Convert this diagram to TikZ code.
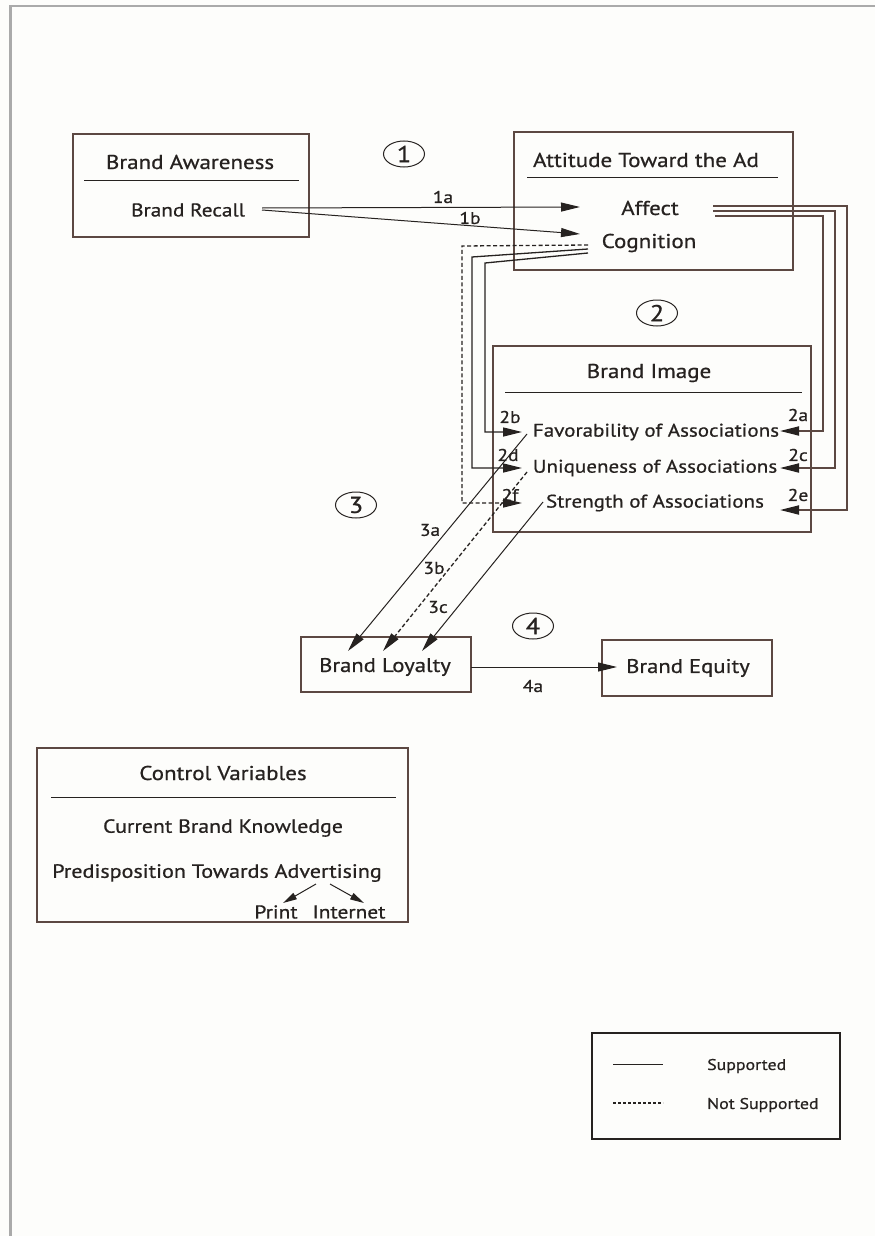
\documentclass[tikz,border=0pt]{standalone}
\usepackage{fontspec}
\setmainfont{PT Sans}[FakeStretch=1.15,FakeBold=0.7]
\usetikzlibrary{arrows.meta,shapes.geometric}
\definecolor{boxc}{RGB}{92,72,66}
\definecolor{linec}{RGB}{38,34,32}
\definecolor{framec}{RGB}{170,170,170}
\definecolor{bgc}{RGB}{253,253,251}
\newcommand\myfs[1]{\fontsize{#1}{#1}\selectfont}
\tikzset{
  box/.style={draw=boxc, line width=1.8pt, inner sep=0pt},
  sepline/.style={draw=linec, line width=1pt},
  txt/.style={font=\myfs{#1}, inner sep=0pt, text=linec},
  txt/.default=20,
  lbl/.style={font=\myfs{17}, inner sep=0pt, text=linec},
  leg/.style={font=\myfs{15.5}, inner sep=0pt, text=linec, anchor=west},
  num/.style={ellipse, draw=linec, line width=1pt, minimum width=41pt, minimum height=26pt, inner sep=0pt, font=\myfs{23}, text=linec},
  tipbig/.style={-{Triangle[length=19pt,width=9pt,color=linec]}},
  arr/.style={tipbig, draw=linec, line width=1pt},
  darr/.style={tipbig, draw=linec, line width=1.3pt, dash pattern=on 4pt off 2.5pt},
  brarr/.style={tipbig, draw=boxc, line width=1.8pt},
  carr/.style={tipbig, draw=linec, line width=1.3pt},
  smarr/.style={-{Triangle[length=14pt,width=7pt]}, draw=linec, line width=1pt},
}
\begin{document}
\begin{tikzpicture}[x=1pt,y=-1pt]
\useasboundingbox (0,0) rectangle (875,1236);
\fill[bgc] (0,0) rectangle (875,1236);
\draw[framec, line width=2.5pt] (875,6) -- (10.5,6) -- (10.5,1236);

% Brand Awareness
\node[box, minimum width=236, minimum height=103] (awbox) at (191,185.5) {};
\node[txt] (aw) at (190,162) {Brand Awareness};
\draw[sepline] (84,180) -- (299,180);
\node[txt=18.5] (recall) at (188,210) {Brand Recall};

% Attitude toward the ad
\node[box, minimum width=279, minimum height=138] (atbox) at (653.5,201) {};
\node[txt] (at) at (646,160) {Attitude Toward the Ad};
\draw[sepline] (527,177) -- (778,177);
\node[txt] (affect) at (650,208) {Affect};
\node[txt] (cog) at (649,243) {Cognition};

% Brand image
\node[box, minimum width=318, minimum height=186] (bibox) at (652,439) {};
\node[txt] (bi) at (649,373) {Brand Image};
\draw[sepline] (505,392) -- (802,392);
\node[txt=18.3] (fav) at (656,432) {Favorability of Associations};
\node[txt=18.3] (uni) at (655,468) {Uniqueness of Associations};
\node[txt=18.3] (str) at (655,503) {Strength of Associations};

% Loyalty / Equity
\node[box, minimum width=170, minimum height=55] (loybox) at (386,664.5) {};
\node[txt=19.7] (loy) at (385,667) {Brand Loyalty};
\node[box, minimum width=170, minimum height=56] (eqbox) at (687,668) {};
\node[txt=19.7] (eq) at (688,668) {Brand Equity};

% Control variables
\node[box, minimum width=371, minimum height=174] (cvbox) at (222.5,835) {};
\node[txt] (cv) at (223,773) {Control Variables};
\draw[sepline] (51,797) -- (396,797);
\node[txt=19] (cbk) at (223,828) {Current Brand Knowledge};
\node[txt=19.2] (pta) at (217,873) {Predisposition Towards Advertising};
\node[txt=18.6] (print) at (276,912) {Print};
\node[txt=18.6] (inet) at (349,912) {Internet};

% Legend
\node[box, draw=linec, line width=1.2pt, minimum width=248, minimum height=106] (legbox) at (716,1086) {};
\coordinate (ls1) at (613,1064); \coordinate (ls2) at (663,1064);
\coordinate (ld1) at (613,1103); \coordinate (ld2) at (663,1103);
\draw[draw=linec, line width=1pt] (ls1) -- (ls2);
\draw[draw=linec, line width=1.2pt, dash pattern=on 3pt off 2pt] (ld1) -- (ld2);
\node[leg] (sup) at (707,1066) {Supported};
\node[leg] (nsup) at (707,1105) {Not Supported};

% Numbered circles
\node[num] (c1) at (404,154) {1};
\node[num] (c2) at (657,313) {2};
\node[num] (c3) at (356,505) {3};
\node[num] (c4) at (533,626) {4};

% Path 1
\coordinate (r1) at (262,208); \coordinate (r2) at (262,210);
\coordinate (af) at (580,207); \coordinate (cg) at (580,234);
\draw[arr] (r1) -- (af);
\draw[arr] (r2) -- (cg);
\node[lbl] (l1a) at (443,197) {1a};
\node[lbl] (l1b) at (470,218) {1b};

% Path 2: from Affect (right side)
\coordinate (as1) at (713,206); \coordinate (as2) at (713,211); \coordinate (as3) at (715,216);
\coordinate (t2a) at (780,431); \coordinate (t2c) at (780,468); \coordinate (t2e) at (780,510);
\draw[brarr] (as1) -- (847,206) -- (847,510) -- (t2e);
\draw[brarr] (as2) -- (835,211) -- (835,468) -- (t2c);
\draw[brarr] (as3) -- (823,216) -- (823,431) -- (t2a);
\node[lbl] (l2a) at (798,415) {2a};
\node[lbl] (l2c) at (798,455) {2c};
\node[lbl] (l2e) at (798,495) {2e};

% Path 2: from Cognition (left side)
\coordinate (cs1) at (588,245); \coordinate (cs2) at (588,249); \coordinate (cs3) at (588,253);
\coordinate (t2b) at (522,432); \coordinate (t2d) at (522,468); \coordinate (t2f) at (522,503);
\draw[darr] (cs1) -- (462,246) -- (462,503) -- (t2f);
\draw[carr] (cs2) -- (472,257) -- (472,468) -- (t2d);
\draw[carr] (cs3) -- (485,263) -- (485,432) -- (t2b);
\node[lbl] (l2b) at (510,417) {2b};
\node[lbl] (l2d) at (508,455) {2d};
\node[lbl] (l2f) at (510,495) {2f};

% Path 3
\coordinate (fs) at (527,434); \coordinate (us) at (527,472); \coordinate (ss) at (543,502);
\coordinate (t3a) at (348,651); \coordinate (t3b) at (383,651); \coordinate (t3c) at (422,651);
\draw[arr] (fs) -- (t3a);
\draw[darr] (us) -- (t3b);
\draw[arr] (ss) -- (t3c);
\node[lbl] (l3a) at (430,530) {3a};
\node[lbl] (l3b) at (434,568) {3b};
\node[lbl] (l3c) at (438,607) {3c};

% Path 4
\coordinate (ly) at (471,667); \coordinate (eqt) at (617,667);
\draw[arr] (ly) -- (eqt);
\node[lbl] (l4a) at (533,686) {4a};

% Print / Internet
\coordinate (p0) at (316,884); \coordinate (p1) at (283,903);
\coordinate (i0) at (330,884); \coordinate (i1) at (364,903);
\draw[smarr] (p0) -- (p1);
\draw[smarr] (i0) -- (i1);
\end{tikzpicture}
\end{document}
